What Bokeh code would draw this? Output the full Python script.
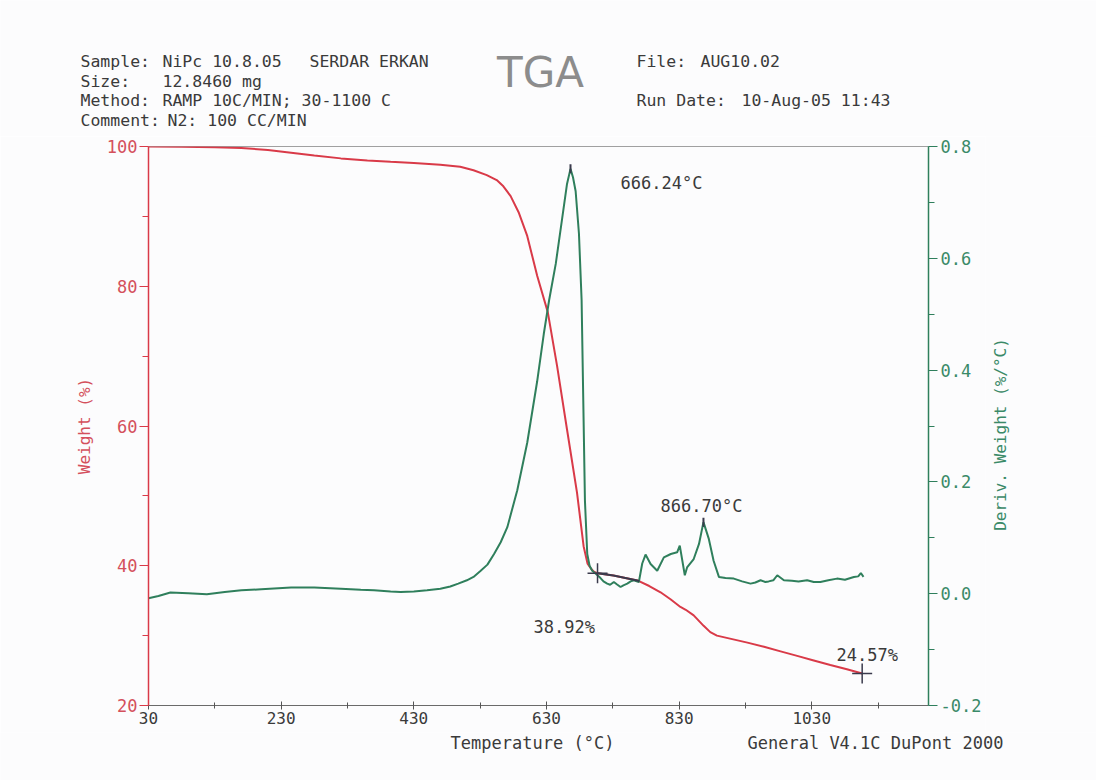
import math
import numpy as np
from bokeh.plotting import figure
from bokeh.layouts import column, row
from bokeh.models import Range1d, LinearAxis, FixedTicker, PrintfTickFormatter, Plot
from bokeh.embed import file_html
from bokeh.resources import INLINE
from bokeh.core.properties import value

# ---------------- data ----------------
weight_temp = [30, 80, 130, 170, 210, 245, 280, 320, 360, 395,
               430, 470, 500, 520, 540, 555, 565, 576, 588, 601,
               616, 632, 646, 661, 676, 686, 692, 697, 701, 707,
               731, 767, 785, 802, 817, 832, 840, 852, 867, 877,
               887, 910, 933, 958, 983, 1008, 1033, 1058, 1083, 1106]
weight_pct = [100.0, 99.95, 99.9, 99.8, 99.5, 99.1, 98.7, 98.3, 98.0, 97.8,
              97.65, 97.4, 97.1, 96.6, 95.9, 95.2, 94.3, 92.9, 90.6, 87.2,
              81.5, 76.3, 68.6, 59.5, 50.5, 42.8, 40.3, 39.6, 39.2, 38.92,
              38.6, 37.9, 37.1, 36.2, 35.2, 34.1, 33.7, 32.9, 31.4, 30.5,
              30.0, 29.5, 29.0, 28.4, 27.75, 27.1, 26.45, 25.8, 25.2, 24.57]

deriv_temp = [30, 45, 63, 90, 118, 145, 170, 200, 245, 280,
              320, 350, 370, 395, 410, 430, 450, 470, 485, 497,
              510, 520, 530, 541, 551, 561, 571, 586, 601, 616,
              626, 634, 644, 654, 661, 666.24, 670, 674, 679, 683,
              685.5, 688, 691.5, 695, 699, 704, 711.5, 716, 721.6, 726,
              731.6, 736, 741.7, 746, 751.8, 757, 761.8, 769.3, 774.4, 779.4,
              787, 797, 807, 817.5, 827, 831, 838.6, 842, 852, 860,
              866.7, 874.8, 882, 890, 900, 912.5, 925, 937.7, 945, 952.8,
              960, 965, 972, 978, 988, 1000, 1010, 1023, 1033, 1043,
              1055, 1068, 1080, 1093.5, 1100, 1104, 1108]
deriv_val = [-0.008, -0.004, 0.002, 0.001, -0.001, 0.003, 0.006, 0.008, 0.011, 0.011,
             0.009, 0.007, 0.006, 0.004, 0.003, 0.004, 0.006, 0.009, 0.013, 0.018,
             0.024, 0.030, 0.040, 0.052, 0.071, 0.092, 0.119, 0.185, 0.270, 0.380,
             0.465, 0.525, 0.590, 0.674, 0.733, 0.760, 0.745, 0.720, 0.644, 0.525,
             0.346, 0.167, 0.071, 0.050, 0.041, 0.036, 0.028, 0.022, 0.018, 0.016,
             0.021, 0.017, 0.012, 0.015, 0.018, 0.022, 0.024, 0.021, 0.054, 0.070,
             0.053, 0.041, 0.065, 0.071, 0.074, 0.086, 0.033, 0.047, 0.062, 0.089,
             0.128, 0.098, 0.059, 0.030, 0.028, 0.027, 0.022, 0.018, 0.020, 0.024,
             0.021, 0.022, 0.024, 0.033, 0.024, 0.023, 0.022, 0.024, 0.021, 0.021,
             0.024, 0.027, 0.025, 0.030, 0.031, 0.037, 0.030]

peak_temps = [666.24, 866.70]
peak_derivs = [0.760, 0.128]
step_temps = [707.0, 1106.0]
step_weights = [38.92, 24.57]
step_span_end = 770.0

x_ticks = [30, 230, 430, 630, 830, 1030]
x_minor = [130, 330, 530, 730, 930, 1130]
w_ticks = [20, 40, 60, 80, 100]
w_minor = [30, 50, 70, 90]
d_ticks = [-0.2, 0.0, 0.2, 0.4, 0.6, 0.8]
d_minor = [-0.1, 0.1, 0.3, 0.5, 0.7]

header_keys = ["Sample:", "Size:", "Method:", "Comment:"]
header_vals = ["NiPc 10.8.05", "12.8460 mg", "RAMP 10C/MIN; 30-1100 C", "N2: 100 CC/MIN"]
operator_name = "SERDAR ERKAN"
file_keys = ["File:", "Run Date:"]
file_vals = ["AUG10.02", "10-Aug-05 11:43"]
chart_title = "TGA"
x_title = "Temperature (°C)"
y_title = "Weight (%)"
y2_title = "Deriv. Weight (%/°C)"
footer_note = "General V4.1C DuPont 2000"

# ---------------- styling ----------------
W = 1096
HEAD_H = 136
MAIN_H = 596
FOOT_H = 780 - HEAD_H - MAIN_H
MAIN_W = 985
SIDE_W = W - MAIN_W
FL, FR = 148, 928
X0, X1 = 30, 1206
Y0, Y1 = 20, 100
D0, D1 = -0.2, 0.8
RED = "#d93a48"
RED_T = "#d4505c"
GREEN = "#2f7f5c"
GREEN_T = "#3a8a68"
DARK = "#3a3a4c"
TXT = "#3a3a3a"
MONO = "DejaVu Sans Mono"
FS = "16px"
FS_H = "16.5px"
FS_T = "17px"
BG = "#fcfcfd"
HAS_FRAME_ALIGN = "frame_align" in Plot.properties()


def strip(width, height, flip=True):
    yr = Range1d(height, 0) if flip else Range1d(0, height)
    f = figure(width=width, height=height, output_backend="svg", toolbar_location=None,
               x_range=Range1d(0, width), y_range=yr,
               x_axis_type=None, y_axis_type=None,
               min_border=0, background_fill_color=BG, border_fill_color=BG,
               outline_line_color=None)
    f.xgrid.visible = False
    f.ygrid.visible = False
    if HAS_FRAME_ALIGN:
        f.frame_align = False
    return f


# ---------------- header ----------------
head = strip(W, HEAD_H)
hkw = dict(text_font=value(MONO), text_font_size=FS_H, text_color=TXT,
           text_baseline="middle", text_align="left")
row_y = [61 + i * 19.5 for i in range(len(header_keys))]
head.text(x=[80] * len(header_keys), y=row_y, text=header_keys, **hkw)
head.text(x=[162, 162, 162, 167], y=row_y, text=header_vals, **hkw)
head.text(x=[309], y=[row_y[0]], text=[operator_name], **hkw)
file_y = [61, 100]
head.text(x=[636] * 2, y=file_y, text=file_keys, **hkw)
head.text(x=[700, 741], y=file_y, text=file_vals, **hkw)
head.text(x=[540], y=[72], text=[chart_title], text_font=value("DejaVu Sans"),
          text_font_size="42px", text_color="#8c8c8c",
          text_align="center", text_baseline="middle")

# ---------------- main plot ----------------
p = figure(width=MAIN_W, height=MAIN_H, output_backend="svg", toolbar_location=None,
           x_range=Range1d(X0, X1), y_range=Range1d(Y0, Y1),
           min_border_left=FL, min_border_right=MAIN_W - FR,
           min_border_top=10, min_border_bottom=MAIN_H - 10 - 559,
           background_fill_color=BG, border_fill_color=BG,
           outline_line_color="#a0a0a0", outline_line_width=1)
if HAS_FRAME_ALIGN:
    p.frame_align = False
p.extra_y_ranges = {"deriv": Range1d(D0, D1)}
p.xgrid.visible = False
p.ygrid.visible = False

xa = p.xaxis[0]
xa.ticker = FixedTicker(ticks=x_ticks, minor_ticks=x_minor)
xa.axis_line_color = "#6a6a6a"
xa.axis_line_width = 1
xa.major_tick_line_color = "#555555"
xa.minor_tick_line_color = "#555555"
xa.major_tick_in = 4
xa.major_tick_out = 4
xa.minor_tick_in = 3
xa.minor_tick_out = 3
xa.major_label_text_font = MONO
xa.major_label_text_font_size = FS
xa.major_label_text_color = TXT
xa.major_label_standoff = 2

ya = p.yaxis[0]
ya.ticker = FixedTicker(ticks=w_ticks, minor_ticks=w_minor)
ya.axis_line_color = RED
ya.axis_line_width = 1.5
ya.major_tick_line_color = RED
ya.minor_tick_line_color = RED
ya.major_tick_in = 0
ya.major_tick_out = 9
ya.minor_tick_in = 0
ya.minor_tick_out = 6
ya.major_label_text_font = MONO
ya.major_label_text_font_size = FS_T
ya.major_label_text_color = RED_T
ya.major_label_standoff = 2
ya.axis_label = y_title
ya.axis_label_text_font = MONO
ya.axis_label_text_font_size = FS
ya.axis_label_text_font_style = "normal"
ya.axis_label_text_color = RED_T
ya.axis_label_standoff = 10

ra = LinearAxis(y_range_name="deriv",
                ticker=FixedTicker(ticks=d_ticks, minor_ticks=d_minor),
                formatter=PrintfTickFormatter(format="%.1f"))
ra.axis_line_color = GREEN
ra.axis_line_width = 1.5
ra.major_tick_line_color = GREEN
ra.minor_tick_line_color = GREEN
ra.major_tick_in = 0
ra.major_tick_out = 9
ra.minor_tick_in = 0
ra.minor_tick_out = 6
ra.major_label_text_font = MONO
ra.major_label_text_font_size = FS_T
ra.major_label_text_color = GREEN_T
ra.major_label_standoff = 3
p.add_layout(ra, "right")

# curves
p.line(weight_temp, weight_pct, line_color=RED, line_width=2)
p.line(deriv_temp, deriv_val, line_color=GREEN, line_width=2, y_range_name="deriv")

# analysis interval marker (dark) along the weight curve
seg_t = [t for t in weight_temp if step_temps[0] < t < step_span_end]
seg_t = [step_temps[0]] + seg_t + [step_span_end]
seg_w = list(np.interp(seg_t, weight_temp, weight_pct))
p.line(seg_t, seg_w, line_color=DARK, line_width=2)

p.scatter(step_temps, step_weights, marker="cross", size=20,
          line_color=DARK, line_width=1.5)
p.scatter(peak_temps, peak_derivs, marker="dash", angle=math.pi / 2, size=9,
          line_color=DARK, line_width=2, y_range_name="deriv")

# annotation texts (positions given in pixels of the plot frame)
FT_, FB_ = 146, 705


def px_x(px):
    return X0 + (px - FL) * (X1 - X0) / (FR - FL)


def px_y(py):
    return Y1 - (py - FT_) * (Y1 - Y0) / (FB_ - FT_)


tkw = dict(text_font=value(MONO), text_font_size=FS_T, text_color=TXT,
           text_baseline="middle", text_align="left")
ann_x = [px_x(620), px_x(660), px_x(533), px_x(836)]
ann_y = [px_y(182), px_y(505), px_y(626), px_y(654)]
ann_text = [f"{peak_temps[0]:.2f}°C", f"{peak_temps[1]:.2f}°C",
            f"{step_weights[0]:.2f}%", f"{step_weights[1]:.2f}%"]
p.text(x=ann_x, y=ann_y, text=ann_text, **tkw)

# ---------------- right-hand strip: derivative axis title ----------------
side = strip(SIDE_W, MAIN_H, flip=False)
side.text(x=[1000 - MAIN_W], y=[MAIN_H - (434 - HEAD_H)], text=[y2_title],
          angle=math.pi / 2, text_font=value(MONO), text_font_size=FS,
          text_color=GREEN_T, text_align="center", text_baseline="middle")

# ---------------- footer ----------------
foot = strip(W, FOOT_H)
fy = 742 - (HEAD_H + MAIN_H)
foot.text(x=[532], y=[fy], text=[x_title], text_font=value(MONO), text_font_size=FS_T,
          text_color=TXT, text_baseline="middle", text_align="center")
foot.text(x=[747], y=[fy], text=[footer_note], **tkw)

layout = column(head, row(p, side, spacing=0), foot, spacing=0)
open("out.html", "w").write(file_html(layout, INLINE))
